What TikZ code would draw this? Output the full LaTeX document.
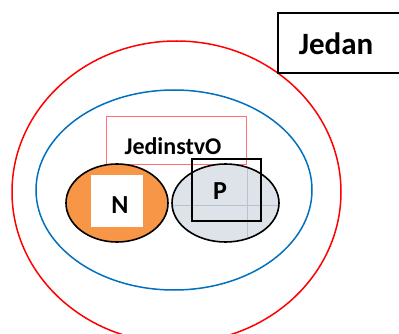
\documentclass[tikz,border=0pt]{standalone}
\usepackage{fontspec}
\setmainfont{Carlito}
\usetikzlibrary{shapes.geometric}
\definecolor{narancasta}{HTML}{F79646}
\definecolor{plava}{HTML}{0070C0}
\definecolor{siva}{HTML}{DEE3EA}
\definecolor{rozna}{HTML}{FF6F73}
\definecolor{mreza}{HTML}{B8C2D0}
\begin{document}
\begin{tikzpicture}[x=1pt,y=-1pt,
  oval/.style={draw,ellipse,inner sep=0pt,line width=1.6pt},
  okvir/.style={draw,inner sep=0pt,line width=1.7pt},
  natpis/.style={font=\bfseries,anchor=base,inner sep=0pt}]
\useasboundingbox (0,0) rectangle (399,334);
\clip (0,0) rectangle (399,334);
\node (crvena)[oval,draw=red,line width=1.5pt,minimum width=329pt,minimum height=302pt] at (176.5,192) {};
\node (plavaE)[oval,draw=plava,line width=1.5pt,minimum width=276pt,minimum height=200pt] at (174,190) {};
\node (jedanbox)[okvir,minimum width=124pt,minimum height=60pt] at (340,43) {};
\node (jedan)[natpis,font=\bfseries\fontsize{31}{31}\selectfont] at (336,55) {Jedan};
\node (jedinstvobox)[draw=rozna,line width=0.9pt,minimum width=140pt,minimum height=48pt] at (176,140) {};
\node (jedinstvo)[natpis,font=\bfseries\fontsize{24}{24}\selectfont] at (173,154) {JedinstvO};
% lijevi krug
\node (lijevi)[oval,fill=narancasta,minimum width=102pt,minimum height=78pt] at (117,203) {};
\node (nbox)[fill=white,minimum width=52pt,minimum height=52pt,inner sep=0pt] at (117,201) {};
\node (n)[natpis,font=\bfseries\fontsize{26}{26}\selectfont] at (120,213) {N};
% desni krug
\node (desni)[ellipse,fill=siva,inner sep=0pt,minimum width=107pt,minimum height=78pt] at (225.5,203) {};
\begin{scope}
\clip (225.5,203) ellipse (53pt and 38.5pt);
\draw[mreza,line width=0.4pt] (247,160) -- (247,246) (170,205) -- (282,205);
\end{scope}
\draw[line width=1.6pt] (desni.center) ellipse (53.5pt and 39pt);
\node (pbox)[okvir,minimum width=69pt,minimum height=62pt] at (226.5,190) {};
\node (p)[natpis,font=\bfseries\fontsize{26}{26}\selectfont] at (220,199) {P};
\end{tikzpicture}
\end{document}
